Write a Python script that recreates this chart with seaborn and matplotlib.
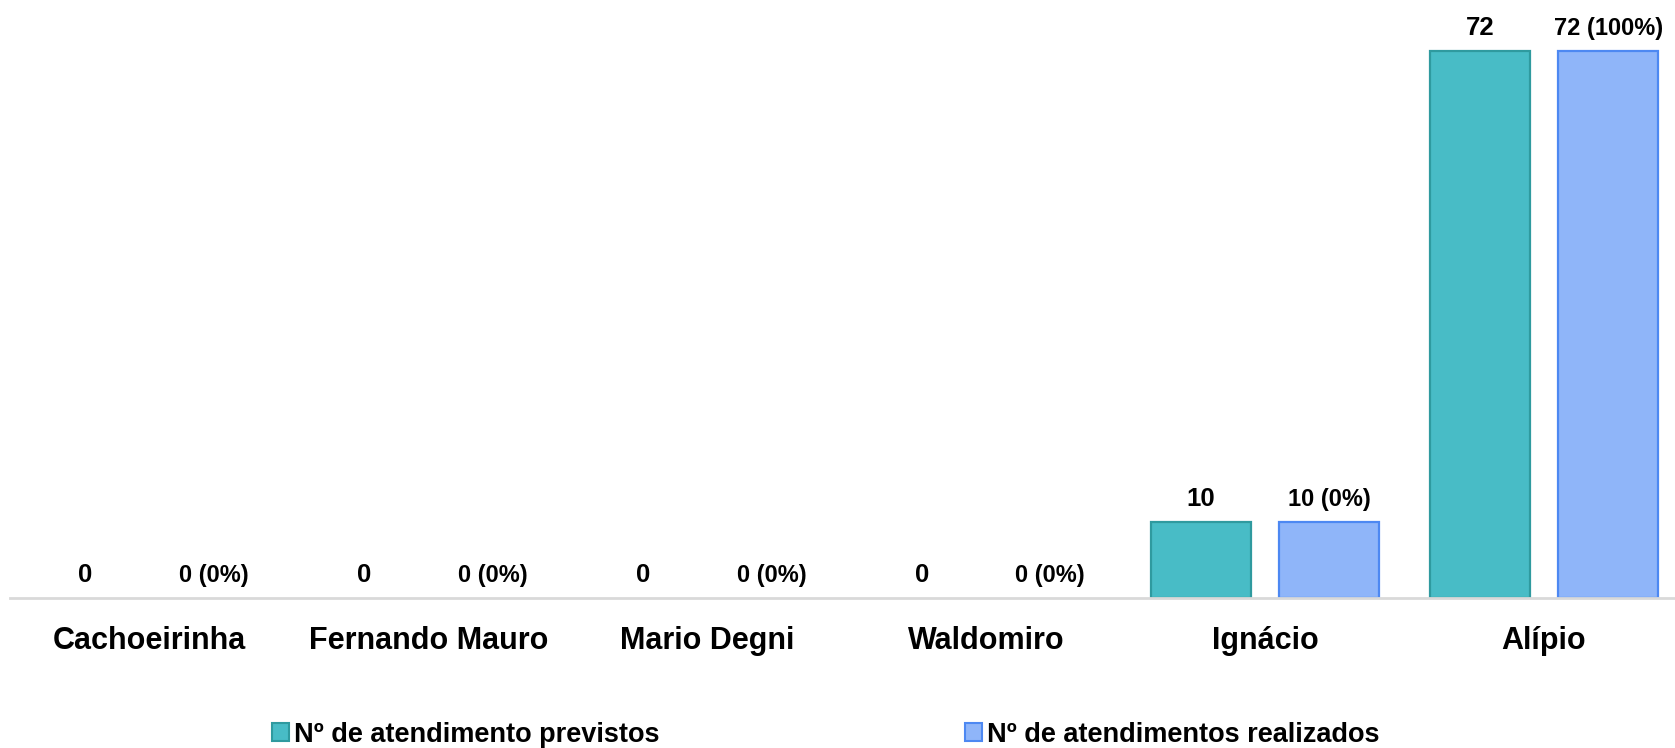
import numpy as np
import pandas as pd
import matplotlib.pyplot as plt
import seaborn as sns

unidades = ['Cachoeirinha', 'Fernando Mauro', 'Mario Degni', 'Waldomiro', 'Ignácio', 'Alípio']
previstos = [0, 0, 0, 0, 10, 72]
realizados = [0, 0, 0, 0, 10, 72]
pct_realizados = [0, 0, 0, 0, 0, 100]

serie_prev = 'Nº de atendimento previstos'
serie_real = 'Nº de atendimentos realizados'

df = pd.DataFrame({
    'unidade': unidades * 2,
    'valor': previstos + realizados,
    'serie': [serie_prev] * len(unidades) + [serie_real] * len(unidades),
})

sns.set_style('white')
plt.rcParams['font.family'] = ['Liberation Sans', 'DejaVu Sans']
plt.rcParams['font.weight'] = 'bold'
plt.rcParams['text.color'] = 'black'
plt.rcParams['xtick.color'] = 'black'

fig = plt.figure(figsize=(16.75, 7.48), dpi=100)
ax = fig.add_axes([0.006, 0.2005, 0.999, 0.7995])

cores = {serie_prev: '#48BCC6', serie_real: '#8FB5F9'}
bordas = {serie_prev: '#2F9A9F', serie_real: '#4D88F2'}

sns.barplot(data=df, x='unidade', y='valor', hue='serie', order=unidades,
            hue_order=[serie_prev, serie_real], palette=cores, width=0.92,
            saturation=1, ax=ax, legend=False)

# bars narrower than seaborn's dodge gives, keep the centres
bar_w = 0.36
for cont, serie in zip(ax.containers, [serie_prev, serie_real]):
    for p in cont.patches:
        cx = p.get_x() + p.get_width() / 2
        p.set_width(bar_w)
        p.set_x(cx - bar_w / 2)
        p.set_edgecolor(bordas[serie])
        p.set_linewidth(1.6 if p.get_height() > 0 else 0)

ax.bar_label(ax.containers[0], labels=[str(v) for v in previstos],
             padding=8, fontsize=18.5, fontweight='bold', color='black')
ax.bar_label(ax.containers[1],
             labels=[f'{v} ({p}%)' for v, p in zip(realizados, pct_realizados)],
             padding=8, fontsize=17, fontweight='bold', color='black')

ax.set_ylim(0, 78.7)
ax.set_xlim(-0.5, 5.5)
ax.set_xlabel('')
ax.set_ylabel('')
ax.set_yticks([])
ax.tick_params(axis='x', length=0, pad=20, labelsize=22)
for lbl in ax.get_xticklabels():
    lbl.set_fontweight('bold')
for s in ['top', 'right', 'left']:
    ax.spines[s].set_visible(False)
ax.spines['bottom'].set_color('#d9d9d9')
ax.spines['bottom'].set_linewidth(2)

handles = [plt.Rectangle((0, 0), 1, 1, facecolor=cores[s], edgecolor=bordas[s], linewidth=1.5)
           for s in [serie_prev, serie_real]]
fig.legend(handles, [serie_prev, serie_real], loc='center left',
           bbox_to_anchor=(0.148, 0.018), ncol=2, frameon=False,
           prop={'size': 19.5, 'weight': 'bold'}, handlelength=0.6, handleheight=0.6,
           handletextpad=0.2, columnspacing=11.3)

fig.savefig('out.png', dpi=100)
